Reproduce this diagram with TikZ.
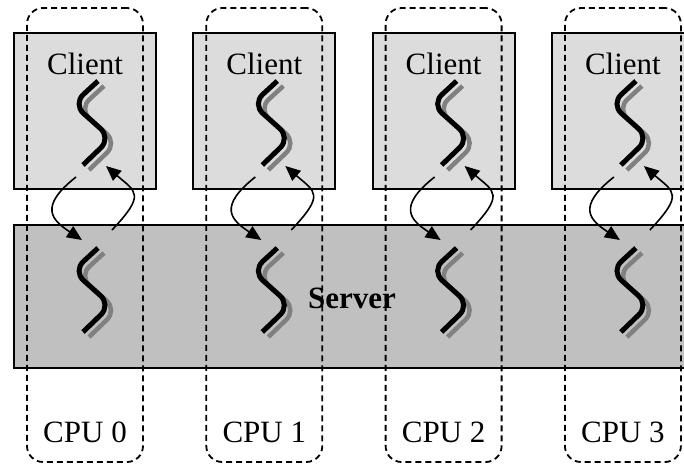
\documentclass[tikz,border=0pt]{standalone}
\usepackage{fontspec}
\setmainfont{Liberation Serif}
\usetikzlibrary{arrows.meta}
\definecolor{clientgray}{RGB}{220,220,220}
\definecolor{servergray}{RGB}{192,192,192}
\definecolor{shadowgray}{RGB}{128,128,128}

% a thread: black wavy stroke with a grey shadow, top end at (#1,#2)
\newcommand\drawthread[2]{%
  \begin{scope}[shift={(#1,#2)}]
    \draw[threadshade] (19,5) -- (-6,28) -- (32,62) -- (4,89);
    \draw[threadline] (13,0) -- (-12,23) -- (26,57) -- (-2,84);
  \end{scope}}

\begin{document}
\begin{tikzpicture}[x=1pt,y=-1pt,
  box/.style={draw=black,line width=1.8pt,inner sep=0pt},
  cpubox/.style={draw=black,dash pattern=on 6pt off 4pt,line width=1.8pt,
                 rounded corners=16pt,inner sep=0pt,minimum width=116pt,minimum height=454pt},
  threadline/.style={line width=5pt,rounded corners=14pt,line cap=butt},
  threadshade/.style={line width=4.5pt,draw=shadowgray,rounded corners=14pt},
  call/.style={line width=1.6pt,-{Triangle[length=15pt,width=13pt]}},
  lbl/.style={font=\fontsize{31}{31}\selectfont,inner sep=0pt,anchor=base}
]
\useasboundingbox (0,0) rectangle (684,464);
\clip (0,0) rectangle (684,464);

% server process spanning all CPUs
\node[box,fill=servergray,minimum width=686pt,minimum height=143pt] (server) at (357,296.5) {};

\foreach \i in {0,1,2,3}{
  \pgfmathsetmacro\cx{85+179.3*\i}
  % client process
  \node[box,fill=clientgray,minimum width=142pt,minimum height=156pt] (cbox\i) at (\cx,111) {};
  \node[lbl] (client\i) at (\cx,74) {Client};
  % client and server threads
  \drawthread{\cx}{81}
  \drawthread{\cx}{248}
  % call and return
  \coordinate (ds\i) at (\cx-9,177);
  \coordinate (de\i) at (\cx-3,240);
  \coordinate (us\i) at (\cx+27,230);
  \coordinate (ue\i) at (\cx+21,166);
  \draw[call] (ds\i) .. controls +(-38,30) and +(-30,-20) .. (de\i);
  \draw[call] (us\i) .. controls +(34,-36) and +(30,26) .. (ue\i);
}

\node[lbl,font=\bfseries\fontsize{31}{31}\selectfont] (serverlbl) at (352,308) {Server};

% CPU boundaries
\foreach \i in {0,1,2,3}{
  \pgfmathsetmacro\cx{85+179.3*\i}
  \node[cpubox] (cpu\i) at (\cx,235) {};
  \node[lbl] (cpulbl\i) at (\cx,442) {CPU \i};
}
\end{tikzpicture}
\end{document}
